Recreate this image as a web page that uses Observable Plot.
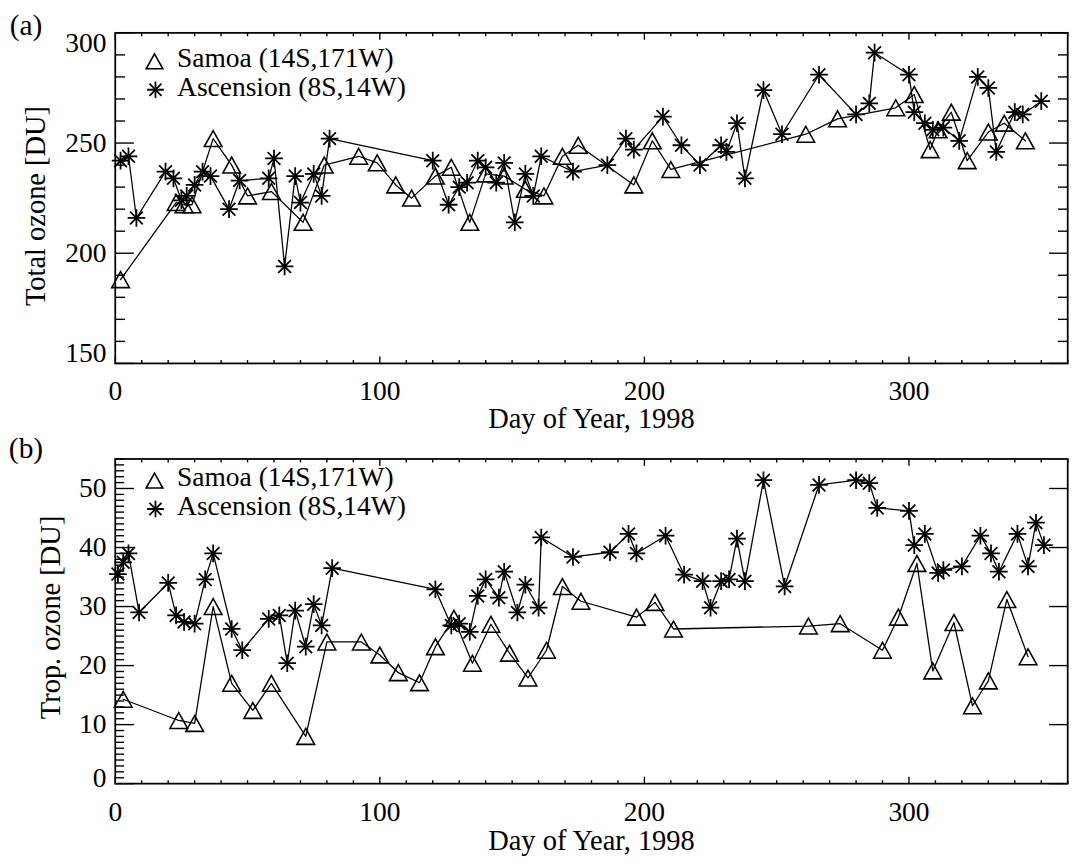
<!DOCTYPE html>
<html><head><meta charset="utf-8">
<script src="https://cdn.jsdelivr.net/npm/d3@7"></script>
<script src="https://cdn.jsdelivr.net/npm/@observablehq/plot@0.6"></script>
<style>
html,body{margin:0;padding:0;background:#fff;overflow:hidden;}
#wrap{width:1079px;height:867px;overflow:hidden;position:relative;background:#fff;}
#wrap svg{display:block;}
</style></head><body><div id="wrap"></div>
<script>
// ---- Data ----
const seriesNames = ["Samoa (14S,171W)", "Ascension (8S,14W)"];
const xTitle = "Day of Year, 1998";

// Panel (a): total ozone
const samoaTotalDay = [2,23,26,29,37,44,50,59,71,79,92,99,106,112,121,127,134,140,147,155,162,169,175,196,203,210,261,273,295,302,308,311,316,322,330,336,344];
const samoaTotal = [188,223,222,222,252,240,226,228,214,240,244,241,231,225,235,239,214,236,235,229,226,244,249,231,251,238,254,261,266,272,247,256,264,242,255,259,251];
const ascTotalDay = [2,5,8,19,22,25,27,30,33,36,43,47,58,60,64,68,70,75,78,81,120,126,130,133,137,140,144,147,151,155,158,161,173,186,193,196,207,214,221,229,231,235,238,245,252,266,280,285,287,300,302,306,309,313,319,326,330,333,340,343,350];
const ascTotal = [242,244,216,237,234,224,226,231,237,235,220,233,234,243,194,235,223,236,226,252,242,222,230,232,242,239,232,241,214,236,226,244,237,240,252,247,262,249,240,249,246,259,234,274,254,281,263,268,291,281,264,259,256,257,251,280,275,246,264,263,269];

// Panel (b): tropospheric ozone
const samoaTropDay = [3,24,30,37,44,52,59,72,80,93,100,107,115,121,128,135,142,149,156,163,169,176,197,204,211,262,274,290,296,303,309,317,324,330,337,345];
const samoaTrop = [14.3,10.7,10.2,30,17,12.4,17,8,24,24,21.8,18.8,17.1,23.2,28,20.4,27,22.1,17.9,22.6,33.4,30.9,28.2,30.7,26.2,26.7,27.1,22.6,28.2,37.3,19.1,27.3,13.2,17.4,31.2,21.5];
const ascTropDay = [1,3,5,9,20,23,26,30,34,37,44,48,58,62,65,68,72,75,78,82,121,127,130,134,137,140,145,147,152,155,160,161,173,187,194,197,208,215,222,225,229,232,235,238,245,253,266,280,285,288,300,302,306,311,313,320,327,331,334,341,345,348,351];
const ascTrop = [35.5,37.5,39,29,34,28.5,27.4,27.1,34.6,39,26.2,22.6,27.9,28.5,20.4,29.3,23.2,30.4,26.8,36.5,32.9,26.8,27.1,25.7,31.8,34.6,31.5,35.9,29,33.7,29.8,41.7,38.4,39.2,42.3,39,42,35.4,34.3,29.8,34.3,34.6,41.5,34.3,51.4,33.4,50.6,51.4,50.9,46.7,46.2,40.4,42.3,35.7,36.2,36.8,42,39,35.9,42.3,36.8,44.2,40.4];

const xTickLabels = [0,100,200,300];
const yTickLabelsA = [150,200,250,300];
const yTickLabelsB = [0,10,20,30,40,50];

// ---- Symbols ----
const triangleSym = {draw(c, s){const r=Math.sqrt(s/Math.PI), h=r*0.9; c.moveTo(0,-h); c.lineTo(r,h); c.lineTo(-r,h); c.closePath();}};
const starSym = {draw(c, s){const r=Math.sqrt(s/Math.PI), d=r*0.72;
  c.moveTo(-r,0); c.lineTo(r,0); c.moveTo(0,-r); c.lineTo(0,r);
  c.moveTo(-d,-d); c.lineTo(d,d); c.moveTo(-d,d); c.lineTo(d,-d);}};
const tickSym = (ux, uy) => ({draw(c, s){const l=Math.sqrt(s/Math.PI); c.moveTo(0,0); c.lineTo(ux*l, uy*l);}});
const tRight = tickSym(1,0), tLeft = tickSym(-1,0), tUp = tickSym(0,-1), tDown = tickSym(0,1);

const FONT = "Liberation Serif, Times New Roman, serif";
const FS_TICK = 28, FS_TITLE = 29, FS_LEG = 28, FS_TAG = 30;
const W = 1100, RIGHT = 1088, LEFT = 117;
const xDomain = [0, 360];
const range = (a, b, s) => d3.range(a, b + s/2, s);

function panel(o) {
  const s = {stroke: "black", fill: "none", strokeWidth: 1.4};
  const sam = o.sDay.map((d,i) => ({day: d, v: o.sVal[i]}));
  const asc = o.aDay.map((d,i) => ({day: d, v: o.aVal[i]}));
  const xMinor = range(0, 360, 10).filter(t => t % 100 !== 0);
  const xMajor = range(0, 300, 100);
  const yMinorL = range(o.yDomain[0], o.yDomain[1], o.leftMinor).filter(t => t % o.major !== 0);
  const yMajor = range(o.yDomain[0], o.yDomain[1], o.major);
  const yMinorR = range(o.yDomain[0], o.yDomain[1], o.rightMinor).filter(t => t % o.major !== 0);
  const txt = {fontFamily: FONT, fill: "black", lineAnchor: "middle"};
  const marks = [
    Plot.frame({stroke: "black", strokeWidth: 1.8}),
    // inward ticks
    Plot.dot(yMinorL, {y: d => d, frameAnchor: "left", symbol: tRight, r: o.minorLen, ...s}),
    Plot.dot(yMajor, {y: d => d, frameAnchor: "left", symbol: tRight, r: 19, ...s}),
    Plot.dot(yMinorR, {y: d => d, frameAnchor: "right", symbol: tLeft, r: 10, ...s}),
    Plot.dot(yMajor, {y: d => d, frameAnchor: "right", symbol: tLeft, r: 19, ...s}),
    Plot.dot(xMinor, {x: d => d, frameAnchor: "bottom", symbol: tUp, r: 3.5, ...s}),
    Plot.dot(xMajor, {x: d => d, frameAnchor: "bottom", symbol: tUp, r: 7, ...s}),
    Plot.dot(xMinor, {x: d => d, frameAnchor: "top", symbol: tDown, r: 3.5, ...s}),
    Plot.dot(xMajor, {x: d => d, frameAnchor: "top", symbol: tDown, r: 7, ...s}),
    // tick labels
    Plot.text(xTickLabels, {x: d => d, frameAnchor: "bottom", textAnchor: "middle", dy: o.xLabDy, text: d => String(d), ...txt, fontSize: FS_TICK}),
    ...o.yLabels.map(t => Plot.text([t], {y: d => d, frameAnchor: "left", textAnchor: "end", dx: -9,
        dy: (o.yLabShift[t] || 0), text: d => String(d), ...txt, fontSize: FS_TICK})),
    // titles
    Plot.text([xTitle], {frameAnchor: "bottom", textAnchor: "middle", dy: o.xLabDy + 29, ...txt, fontSize: FS_TITLE}),
    Plot.text([o.yTitle], {frameAnchor: "left", textAnchor: "middle", rotate: -90, dx: o.yTitleDx, dy: o.yTitleDy, ...txt, fontSize: FS_TITLE}),
    Plot.text([o.tag], {frameAnchor: "top-left", textAnchor: "middle", dx: -91, dy: o.tagDy, ...txt, fontSize: FS_TAG}),
    // data
    Plot.line(sam, {x: "day", y: "v", stroke: "black", strokeWidth: 1.3}),
    Plot.line(asc, {x: "day", y: "v", stroke: "black", strokeWidth: 1.3}),
    Plot.dot(sam, {x: "day", y: "v", symbol: triangleSym, r: 9, stroke: "black", fill: "none", strokeWidth: 1.6}),
    Plot.dot(asc, {x: "day", y: "v", symbol: starSym, r: 9, stroke: "black", fill: "none", strokeWidth: 1.8}),
    // legend
    Plot.dot([0], {frameAnchor: "top-left", dx: 40, dy: o.legDy[0] + 3, symbol: triangleSym, r: 8.5, stroke: "black", fill: "none", strokeWidth: 1.6}),
    Plot.dot([0], {frameAnchor: "top-left", dx: 41, dy: o.legDy[1] + 3, symbol: starSym, r: 8.5, stroke: "black", fill: "none", strokeWidth: 1.8}),
    Plot.text([seriesNames[0]], {frameAnchor: "top-left", dx: 63, dy: o.legDy[0], textAnchor: "start", ...txt, fontSize: FS_LEG}),
    Plot.text([seriesNames[1]], {frameAnchor: "top-left", dx: 63, dy: o.legDy[1], textAnchor: "start", ...txt, fontSize: FS_LEG})
  ];
  return Plot.plot({
    width: W, height: o.height,
    marginLeft: LEFT, marginRight: W - RIGHT, marginTop: o.mt, marginBottom: o.mb,
    x: {domain: xDomain, axis: null},
    y: {domain: o.yDomain, axis: null},
    style: {fontFamily: FONT, background: "white", color: "black", overflow: "visible"},
    marks
  });
}

const wrap = document.getElementById("wrap");
wrap.appendChild(panel({
  height: 440, mt: 33, mb: 70, yDomain: [150, 300], major: 50, leftMinor: 10, rightMinor: 10, minorLen: 10,
  sDay: samoaTotalDay, sVal: samoaTotal, aDay: ascTotalDay, aVal: ascTotal,
  yLabels: yTickLabelsA, yLabShift: {300: 11, 150: -10}, xLabDy: 28,
  yTitle: "Total ozone [DU]", yTitleDx: -81, yTitleDy: 8, tag: "(a)", tagDy: -7, legDy: [26, 55]
}));
wrap.appendChild(panel({
  height: 427, mt: 27, mb: 69, yDomain: [0, 55], major: 10, leftMinor: 1, rightMinor: 10, minorLen: 9,
  sDay: samoaTropDay, sVal: samoaTrop, aDay: ascTropDay, aVal: ascTrop,
  yLabels: yTickLabelsB, yLabShift: {0: -6}, xLabDy: 29,
  yTitle: "Trop. ozone [DU]", yTitleDx: -66, yTitleDy: -4, tag: "(b)", tagDy: -11, legDy: [19, 48]
}));
</script></body></html>
